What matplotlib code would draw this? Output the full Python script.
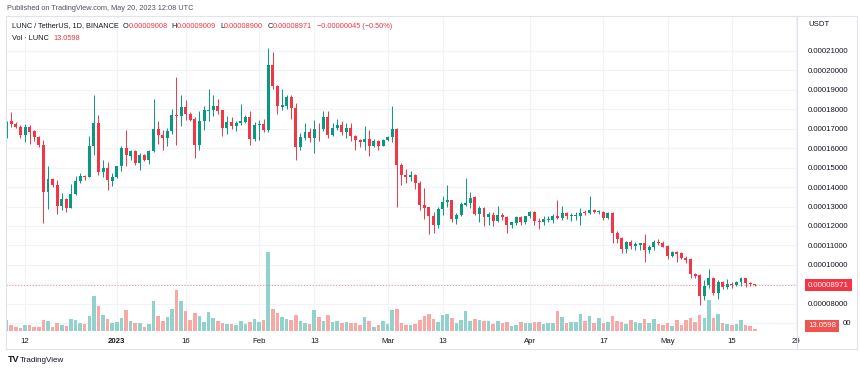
import numpy as np
import pandas as pd
import matplotlib
matplotlib.use("Agg")
import matplotlib.pyplot as plt
import matplotlib.transforms as mtrans
from matplotlib.lines import Line2D

plt.rcParams['font.family'] = ['Liberation Sans', 'DejaVu Sans']

# daily candles, LUNC/USDT, values in micro-USDT (x 1e-6)
first_day = '2022-12-08'
last_day = '2023-05-20'

opens = [165.5, 173.8, 172.4, 170.9, 166.9, 170.9, 168.6, 165.5, 161.6, 137.7,
         143.9, 141.2, 130.5, 134.0, 129.3, 136.4, 142.9, 145.8, 145.1, 160.9,
         172.9, 147.5, 149.9, 143.2, 145.3, 150.6, 159.9, 156.1, 158.7, 152.3,
         156.3, 153.7, 158.7, 170.0, 166.9, 165.0, 168.6, 177.2, 176.7, 181.2,
         177.7, 175.0, 161.8, 174.0, 179.1, 179.4, 181.7, 179.4, 170.2, 173.6,
         171.5, 172.9, 173.6, 176.2, 164.7, 171.8, 172.3, 169.1, 202.4, 192.1,
         181.2, 181.8, 186.3, 180.8, 160.4, 165.2, 168.1, 165.2, 170.0, 170.0,
         176.0, 166.9, 170.4, 172.1, 168.5, 170.5, 166.0, 164.0, 163.2, 164.7,
         161.3, 163.5, 161.3, 164.0, 165.5, 169.8, 151.5, 146.0, 144.9, 146.2,
         142.0, 130.9, 129.5, 124.9, 120.6, 128.7, 132.1, 133.1, 123.8, 125.7,
         131.0, 131.8, 135.0, 126.2, 129.2, 124.6, 125.7, 122.8, 125.7, 124.6,
         120.6, 121.5, 124.6, 121.8, 124.9, 127.1, 122.8, 121.8, 123.2, 123.2,
         124.9, 124.2, 126.9, 124.9, 124.9, 125.2, 127.1, 126.9, 128.3, 127.4,
         127.4, 124.0, 126.9, 116.6, 113.7, 108.2, 111.7, 109.8, 110.4, 111.2,
         107.7, 109.1, 112.0, 111.5, 109.8, 104.6, 106.5, 106.0, 103.8, 103.1,
         95.2, 94.9, 84.2, 89.6, 93.1, 85.7, 91.1, 88.5, 90.2, 89.7,
         91.2, 93.1, 90.7, 90.08]

highs = [174.0, 178.4, 173.2, 172.1, 172.6, 171.9, 169.5, 166.0, 164.0, 151.0,
         144.6, 143.7, 136.9, 134.3, 141.7, 145.8, 147.4, 146.2, 166.0, 187.0,
         177.2, 154.0, 153.0, 147.2, 151.0, 160.9, 169.5, 159.2, 159.2, 157.5,
         157.1, 159.2, 185.3, 173.8, 169.1, 170.4, 180.3, 196.6, 187.0, 184.9,
         178.4, 176.0, 178.9, 181.5, 190.4, 187.5, 185.3, 179.8, 176.3, 176.0,
         173.8, 182.4, 177.2, 178.9, 173.2, 174.6, 175.0, 211.5, 209.5, 192.6,
         190.4, 187.5, 187.5, 182.9, 167.8, 172.9, 170.4, 174.6, 172.9, 178.9,
         178.9, 172.9, 175.0, 173.8, 172.9, 172.9, 166.9, 164.7, 171.5, 169.5,
         164.7, 164.3, 164.7, 166.4, 181.5, 170.4, 152.3, 149.3, 148.0, 146.8,
         142.9, 139.5, 130.0, 127.4, 129.7, 135.5, 141.2, 133.5, 126.9, 132.1,
         144.6, 137.7, 135.5, 130.4, 130.0, 127.4, 127.4, 130.4, 126.6, 124.9,
         122.3, 125.2, 124.9, 125.2, 127.9, 127.9, 124.0, 124.9, 125.2, 126.2,
         133.5, 130.4, 127.4, 126.6, 127.4, 129.2, 128.3, 135.2, 128.7, 128.3,
         127.9, 127.4, 127.4, 117.5, 114.1, 112.5, 112.9, 112.0, 111.5, 116.0,
         110.3, 112.9, 113.2, 112.4, 110.3, 107.4, 107.2, 106.8, 104.6, 103.4,
         95.7, 95.4, 92.3, 98.0, 93.8, 92.3, 91.9, 92.6, 91.4, 91.9,
         94.0, 93.3, 91.4, 90.09]

lows = [165.0, 170.7, 170.1, 165.2, 163.0, 162.1, 163.5, 160.6, 121.5, 128.7,
        140.0, 126.1, 128.3, 127.0, 129.0, 135.9, 142.0, 143.4, 145.0, 156.6,
        146.3, 145.4, 138.6, 140.7, 144.6, 148.0, 150.6, 154.0, 151.5, 148.5,
        153.2, 151.8, 157.8, 162.3, 159.2, 160.9, 167.3, 161.4, 171.5, 174.6,
        173.8, 154.9, 158.8, 169.1, 173.8, 176.3, 177.7, 166.0, 167.3, 169.8,
        168.6, 172.0, 172.9, 161.8, 163.5, 164.3, 168.1, 168.5, 190.4, 177.7,
        179.4, 180.3, 175.1, 153.7, 159.2, 164.3, 162.9, 157.5, 163.8, 168.6,
        165.2, 166.0, 169.5, 166.9, 165.2, 163.5, 158.8, 160.6, 159.2, 155.7,
        160.6, 158.8, 160.9, 163.5, 163.0, 129.8, 141.2, 142.0, 142.9, 139.1,
        128.3, 123.5, 116.0, 116.3, 119.2, 125.7, 129.7, 121.8, 121.1, 124.9,
        130.4, 129.2, 125.7, 121.8, 120.1, 120.6, 120.1, 121.8, 123.2, 116.3,
        118.9, 120.6, 120.6, 121.1, 124.0, 120.6, 118.5, 120.6, 122.3, 121.5,
        123.5, 123.2, 123.7, 122.8, 123.2, 120.6, 125.7, 126.2, 126.6, 126.2,
        123.2, 123.5, 111.5, 111.2, 106.0, 106.0, 108.1, 107.7, 107.7, 101.7,
        106.0, 107.7, 110.3, 109.1, 102.9, 104.3, 101.7, 102.9, 101.2, 93.2,
        93.2, 79.4, 82.0, 88.0, 84.6, 82.3, 87.5, 87.5, 88.0, 89.2,
        89.2, 88.8, 89.2, 89.00]

closes = [173.4, 172.2, 170.8, 166.9, 170.9, 168.5, 165.5, 161.4, 137.7, 144.1,
          141.2, 130.5, 133.8, 129.3, 136.4, 142.9, 145.8, 145.1, 160.9, 172.9,
          147.5, 149.9, 143.4, 145.3, 150.6, 160.1, 156.3, 158.5, 152.2, 156.3,
          153.7, 158.7, 170.0, 166.6, 165.0, 168.6, 176.8, 176.3, 181.2, 177.7,
          174.6, 161.8, 174.0, 179.4, 179.8, 181.7, 179.1, 170.2, 173.6, 171.5,
          172.9, 173.8, 176.2, 164.7, 171.9, 172.3, 169.1, 202.4, 192.1, 181.5,
          181.9, 186.3, 180.7, 160.4, 165.5, 168.1, 165.2, 170.0, 169.6, 176.0,
          166.9, 170.4, 172.1, 168.5, 170.5, 166.0, 164.0, 163.2, 164.7, 161.3,
          163.7, 161.3, 164.2, 165.5, 169.8, 151.1, 146.0, 144.9, 146.2, 142.0,
          130.9, 129.2, 124.9, 120.6, 128.7, 132.1, 133.1, 123.8, 125.7, 131.4,
          131.8, 134.6, 126.2, 129.2, 124.6, 126.2, 122.8, 125.7, 124.6, 120.6,
          121.8, 124.6, 121.8, 124.9, 127.1, 122.6, 121.8, 123.7, 123.7, 124.9,
          124.2, 126.9, 124.9, 125.4, 125.7, 126.9, 126.6, 128.3, 127.3, 127.8,
          124.0, 126.9, 116.6, 113.4, 108.2, 111.7, 109.8, 110.7, 111.2, 107.7,
          109.4, 111.7, 111.5, 109.4, 104.6, 106.5, 105.7, 103.4, 102.6, 95.2,
          94.3, 84.2, 89.3, 93.1, 85.7, 91.4, 88.5, 90.2, 89.7, 91.2,
          93.1, 90.6, 90.08, 89.71]

# volume in billions LUNC
volumes = [85, 46, 28, 25, 44, 46, 31, 33, 85, 77,
           33, 64, 44, 38, 95, 85, 59, 52, 115, 270,
           192, 123, 90, 64, 69, 100, 162, 74, 60, 59,
           33, 54, 231, 115, 77, 110, 167, 316, 233, 154,
           85, 141, 118, 72, 149, 100, 79, 59, 52, 52,
           46, 77, 52, 72, 95, 72, 85, 606, 167, 141,
           110, 95, 85, 121, 77, 64, 54, 162, 110, 79,
           123, 69, 79, 59, 72, 64, 64, 46, 105, 77,
           33, 46, 77, 52, 162, 169, 62, 44, 49, 56,
           87, 113, 133, 90, 69, 121, 129, 102, 62, 82,
           154, 75, 92, 82, 75, 77, 52, 77, 62, 67,
           41, 49, 71, 63, 64, 69, 69, 54, 64, 62,
           156, 105, 59, 67, 72, 133, 79, 115, 64, 98,
           64, 69, 115, 77, 69, 54, 85, 69, 62, 95,
           62, 92, 55, 49, 62, 36, 82, 46, 87, 102,
           69, 123, 100, 236, 100, 133, 62, 56, 44, 52,
           82, 46, 36, 13.0598]

price_ticks = [80, 90, 100, 110, 120, 130, 140, 150, 160, 170, 180, 190, 200, 210]
hidden_tick = 70  # mostly covered by the volume label in the reference
date_ticks = ['2022-12-12', '2023-01-01', '2023-01-16', '2023-02-01', '2023-02-13',
              '2023-03-01', '2023-03-13', '2023-04-01', '2023-04-17', '2023-05-01',
              '2023-05-15', '2023-05-29']
date_labels = ['12', '2023', '16', 'Feb', '13', 'Mar', '13', 'Apr', '17', 'May', '15', '29']

UP = '#089981'
DOWN = '#f23645'
UP_VOL = '#92d2cc'
DOWN_VOL = '#f7a9a7'
GRID = '#f0f3fa'
TXT = '#131722'
BORDER = '#e0e3eb'
FS = 5.6
FS_HEAD = 5.3

days = pd.date_range(first_day, last_day, freq='D')
x = np.arange(len(days))
o = np.array(opens) * 1e-6
h = np.array(highs) * 1e-6
l = np.array(lows) * 1e-6
c = np.array(closes) * 1e-6
v = np.array(volumes)
up = c >= o

tick_x = [(pd.Timestamp(d) - days[0]).days for d in date_ticks]

W, H = 860, 370
fig = plt.figure(figsize=(W / 100, H / 100), dpi=100)
fig.patch.set_facecolor('white')

# plot area in pixels
px_left, px_right, px_top, px_bottom = 6, 797, 16, 331
rect = [px_left / W, 1 - px_bottom / H, (px_right - px_left) / W, (px_bottom - px_top) / H]

ax_v = fig.add_axes(rect)
ax = fig.add_axes(rect)
ax.set_facecolor('none')

xlim = (-0.15, 172.2)
for a in (ax, ax_v):
    a.set_xlim(*xlim)
    for s in a.spines.values():
        s.set_visible(False)
ax.set_ylim(66.1e-6, 227.8e-6)
ax_v.set_ylim(0, 2425)

# grid behind everything (on volume axes)
tr = mtrans.blended_transform_factory(ax_v.transAxes, ax.transData)
for p in [hidden_tick] + price_ticks:
    ax_v.plot([0, 1], [p * 1e-6, p * 1e-6], transform=tr, color=GRID, lw=0.8, zorder=0)
for t in tick_x:
    ax_v.axvline(t, color=GRID, lw=0.8, zorder=0)

# volume
ax_v.bar(x, v, width=0.78, color=np.where(up, UP_VOL, DOWN_VOL), zorder=1)
ax_v.set_xticks([])
ax_v.set_yticks([])

# candles
cols = np.where(up, UP, DOWN)
ax.vlines(x, l, h, colors=cols, lw=0.7, zorder=2)
body_lo = np.minimum(o, c)
body_h = np.maximum(np.abs(c - o), 0.35e-6)
ax.bar(x, body_h, bottom=body_lo, width=0.65, color=cols, zorder=3)

# last price line
ax.axhline(c[-1], color=DOWN, lw=0.6, ls=(0, (1.5, 2)), alpha=0.6, zorder=1)

# price axis on the right
ax.yaxis.tick_right()
ax.set_yticks(np.array(price_ticks) * 1e-6)
ax.set_yticklabels(['%.8f' % (p * 1e-6) for p in price_ticks])
ax.tick_params(axis='y', length=0, pad=8, labelsize=FS, labelcolor=TXT)

# time axis
ax.set_xticks(tick_x)
ax.set_xticklabels(date_labels)
ax.tick_params(axis='x', length=0, pad=5, labelsize=FS, labelcolor=TXT)
for lab in ax.get_xticklabels():
    if lab.get_text() == '2023':
        lab.set_fontweight('bold')

yt = ax.get_yaxis_transform()
# only the tail of the 0.00007000 label shows past the volume label
ax.text(1.0139 + 35 / 791, hidden_tick * 1e-6, ('%.8f' % (hidden_tick * 1e-6))[-2:],
        transform=yt, ha='left', va='center', fontsize=FS, color=TXT, clip_on=False)

# labels on the price scale
ax.text(1.0139, c[-1], '%.8f' % c[-1], transform=yt, ha='left', va='center',
        fontsize=FS, color='white', clip_on=False, zorder=10,
        bbox=dict(boxstyle='square,pad=0.35', fc=DOWN, ec='none'))
vt = ax_v.get_yaxis_transform()
ax_v.text(1.0139, v[-1], '%.4f' % v[-1], transform=vt, ha='left', va='bottom',
          fontsize=FS, color='white', clip_on=False, zorder=10,
          bbox=dict(boxstyle='square,pad=0.35', fc='#ef5350', ec='none'))
ax_v.set_zorder(0)
ax.set_zorder(1)


# frame lines
def fline(xs, ys):
    fig.add_artist(Line2D([xx / W for xx in xs], [1 - yy / H for yy in ys],
                          color=BORDER, lw=0.8))


fline([6, 857], [16, 16])
fline([6, 857], [349, 349])
fline([6, 6], [16, 349])
fline([857, 857], [16, 349])
fline([797, 797], [16, 349])

# header texts
fig.text(7 / W, 1 - 9 / H, 'Published on TradingView.com, May 20, 2023 12:08 UTC',
         fontsize=FS_HEAD, color='#50535e', va='center')
fig.text(808 / W, 1 - 25 / H, 'USDT', fontsize=FS, color=TXT, va='center')

renderer = fig.canvas.get_renderer()


def run(x0, y0, parts):
    xx = x0 / W
    for s, col, g in parts:
        xx += g / W
        t = fig.text(xx, 1 - y0 / H, s, fontsize=FS_HEAD, color=col, va='center')
        xx += t.get_window_extent(renderer=renderer).width / W


run(12, 26, [('LUNC / TetherUS, 1D, BINANCE', TXT, 0),
             ('O', TXT, 4), ('%.8f' % o[-1], DOWN, 0),
             ('H', TXT, 4), ('%.8f' % h[-1], DOWN, 0),
             ('L', TXT, 4), ('%.8f' % l[-1], DOWN, 0),
             ('C', TXT, 4), ('%.8f' % c[-1], DOWN, 0),
             ('\u22120.00000045 (\u22120.50%)', DOWN, 5)])
run(12, 38, [('Vol \u00b7 LUNC', TXT, 0), ('%.4f' % v[-1], DOWN, 5)])

fig.text(8 / W, 1 - 360 / H, 'TV', fontsize=6.5, fontweight='bold', color=TXT, va='center')
fig.text(20 / W, 1 - 360 / H, 'TradingView', fontsize=5.8, color=TXT, va='center')

fig.savefig('out.png', dpi=100)
